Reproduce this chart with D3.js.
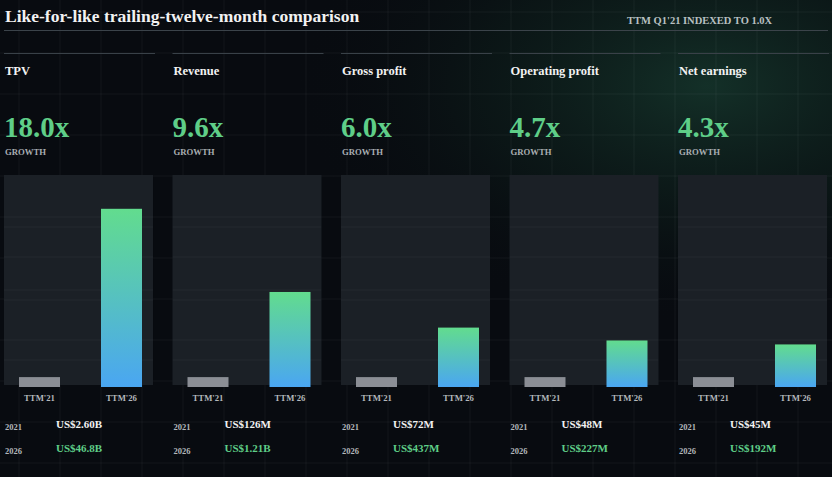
<!DOCTYPE html>
<html>
<head>
<meta charset="utf-8">
<script src="https://cdn.jsdelivr.net/npm/d3@7"></script>
<style>
  html, body { margin: 0; padding: 0; background: #080b10; }
  svg { display: block; }
  text { font-family: "Liberation Serif", "DejaVu Serif", serif; font-weight: bold; }
</style>
</head>
<body>
<svg></svg>
<script>
var title = "Like-for-like trailing-twelve-month comparison"
var subtitle = "TTM Q1'21 INDEXED TO 1.0X"
var metrics = ["TPV", "Revenue", "Gross profit", "Operating profit", "Net earnings"]
var periods = ["TTM'21", "TTM'26"]
var baseIndex = 1.0
var growth = [18.0, 9.6, 6.0, 4.7, 4.3]
var years = ["2021", "2026"]
var values2021 = ["US$2.60B", "US$126M", "US$72M", "US$48M", "US$45M"]
var values2026 = ["US$46.8B", "US$1.21B", "US$437M", "US$227M", "US$192M"]

document.addEventListener("DOMContentLoaded", function(event) {
    drawChart()
});

function drawChart() {
    var svgWidth = 832, svgHeight = 477;
    var svg = d3.select('svg')
        .attr("width", svgWidth)
        .attr("height", svgHeight);

    var defs = svg.append("defs");

    // green glow in the top right
    var glow = defs.append("radialGradient")
        .attr("id", "glow")
        .attr("cx", 0.85).attr("cy", 0.18).attr("r", 0.5);
    glow.append("stop").attr("offset", "0%").attr("stop-color", "#1a4435").attr("stop-opacity", 0.65);
    glow.append("stop").attr("offset", "55%").attr("stop-color", "#112c23").attr("stop-opacity", 0.3);
    glow.append("stop").attr("offset", "100%").attr("stop-color", "#080b10").attr("stop-opacity", 0);

    var barGrad = defs.append("linearGradient")
        .attr("id", "barGrad")
        .attr("x1", 0).attr("y1", 0).attr("x2", 0).attr("y2", 1);
    barGrad.append("stop").attr("offset", "0%").attr("stop-color", "#62dc8e");
    barGrad.append("stop").attr("offset", "100%").attr("stop-color", "#4aa6f2");

    svg.append("rect")
        .attr("width", svgWidth).attr("height", svgHeight)
        .attr("fill", "#080b10");
    svg.append("rect")
        .attr("width", svgWidth).attr("height", svgHeight)
        .attr("fill", "url(#glow)");

    // faint background grid
    var grid = svg.append("g").attr("stroke", "#ffffff").attr("stroke-opacity", 0.05);
    grid.selectAll("line.v")
        .data(d3.range(19, svgWidth, 41))
        .enter().append("line")
        .attr("x1", function(d) { return d; }).attr("x2", function(d) { return d; })
        .attr("y1", 0).attr("y2", svgHeight);
    grid.selectAll("line.h")
        .data(d3.range(12, svgHeight, 41))
        .enter().append("line")
        .attr("y1", function(d) { return d; }).attr("y2", function(d) { return d; })
        .attr("x1", 0).attr("x2", svgWidth);

    // Title row
    svg.append("text")
        .attr("x", 5).attr("y", 22)
        .attr("fill", "#f2f2f2")
        .attr("font-size", "17.5px")
        .text(title);
    svg.append("text")
        .attr("x", 627).attr("y", 24)
        .attr("fill", "#b9c0c2")
        .attr("font-size", "10.5px")
        .text(subtitle);
    svg.append("line")
        .attr("x1", 4).attr("x2", 828)
        .attr("y1", 30.5).attr("y2", 30.5)
        .attr("stroke", "#3b434a").attr("stroke-width", 1);

    // Scales
    var panel = d3.scaleBand()
        .domain(metrics)
        .range([4, 827])
        .paddingInner(0.1157);
    var x = d3.scaleBand()
        .domain(periods)
        .range([15, 138])
        .paddingInner(0.5);
    var y = d3.scaleLinear()
        .domain([0, 20])
        .range([387, 189]);

    var panels = svg.selectAll("g.panel")
        .data(metrics)
        .enter().append("g")
        .attr("class", "panel")
        .attr("transform", function(d) { return "translate(" + panel(d) + ",0)"; });

    panels.append("line")
        .attr("x1", 0).attr("x2", panel.bandwidth() + 2)
        .attr("y1", 53.5).attr("y2", 53.5)
        .attr("stroke", "#394148").attr("stroke-width", 1);

    panels.append("text")
        .attr("x", 1).attr("y", 75)
        .attr("fill", "#f2f2f2")
        .attr("font-size", "12.5px")
        .text(function(d) { return d; });

    panels.append("text")
        .attr("x", 0).attr("y", 137)
        .attr("fill", "#5fce88")
        .attr("font-size", "29px")
        .text(function(d, i) { return growth[i].toFixed(1) + "x"; });

    panels.append("text")
        .attr("x", 1).attr("y", 155)
        .attr("fill", "#a9aeb2")
        .attr("font-size", "8.7px")
        .text("GROWTH");

    panels.append("rect")
        .attr("x", 0).attr("y", 175)
        .attr("width", panel.bandwidth()).attr("height", 210)
        .attr("fill", "#1b2026");

    // inner grid lines of the panels
    panels.each(function() {
        var g = d3.select(this).append("g")
            .attr("stroke", "#ffffff").attr("stroke-opacity", 0.04);
        g.selectAll("line")
            .data([217, 227, 257, 290, 300, 340, 360])
            .enter().append("line")
            .attr("x1", 0).attr("x2", panel.bandwidth())
            .attr("y1", function(d) { return d; }).attr("y2", function(d) { return d; });
    });

    // bars
    panels.append("rect")
        .attr("x", x(periods[0]))
        .attr("y", y(baseIndex))
        .attr("width", x.bandwidth())
        .attr("height", y(0) - y(baseIndex))
        .attr("fill", "#8b8e95");

    panels.append("rect")
        .attr("x", x(periods[1]))
        .attr("y", function(d, i) { return y(growth[i]); })
        .attr("width", x.bandwidth())
        .attr("height", function(d, i) { return y(0) - y(growth[i]); })
        .attr("fill", "url(#barGrad)");

    periods.forEach(function(p) {
        panels.append("text")
            .attr("x", x(p) + x.bandwidth() / 2)
            .attr("y", 401)
            .attr("text-anchor", "middle")
            .attr("fill", "#b3b8bb")
            .attr("font-size", "8.7px")
            .text(p);
    });

    // footer values
    var rowsY = [430, 454];
    [values2021, values2026].forEach(function(vals, r) {
        panels.append("text")
            .attr("x", 1).attr("y", rowsY[r])
            .attr("fill", "#b3b8bb")
            .attr("font-size", "8.5px")
            .text(years[r]);
        panels.append("text")
            .attr("x", 52).attr("y", rowsY[r] - 2)
            .attr("fill", r === 0 ? "#f2f2f2" : "#5fce88")
            .attr("font-size", "11px")
            .text(function(d, i) { return vals[i]; });
    });
}
</script>
</body>
</html>
